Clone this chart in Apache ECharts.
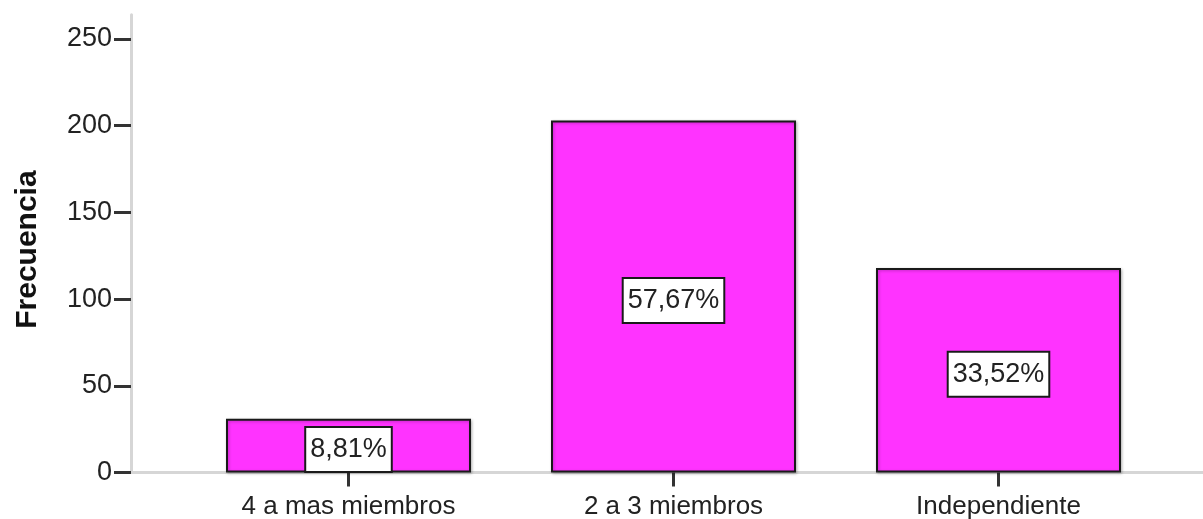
<!DOCTYPE html>
<html>
<head>
<meta charset="utf-8">
<script src="https://cdn.jsdelivr.net/npm/echarts@6/dist/echarts.min.js"></script>
<style>
  html, body { margin: 0; padding: 0; background: #fff; }
  #chart { width: 1203px; height: 519px; }
</style>
</head>
<body>
<div id="chart"></div>
<script>
// Frequency of household size groups
const categories = ['4 a mas miembros', '2 a 3 miembros', 'Independiente'];
const frequencies = [31, 203, 118];
const yTicks = [0, 50, 100, 150, 200, 250];

const FONT = '"Liberation Sans", Arial, sans-serif';
const total = frequencies.reduce((a, b) => a + b, 0);
const pctLabel = v => (v / total * 100).toFixed(2).replace('.', ',') + '%';

const yMin = 0, yMax = 264;
const plotTop = 14.7, plotBottom = 46.5;

const chart = echarts.init(document.getElementById('chart'), null, { renderer: 'canvas' });
chart.setOption({
  animation: false,
  backgroundColor: '#ffffff',
  grid: [
    // bars
    { left: 186, right: 42, top: plotTop, bottom: plotBottom, outerBoundsMode: 'none', containLabel: false },
    // axis frame
    { left: 131, right: 0, top: plotTop, bottom: plotBottom, outerBoundsMode: 'none', containLabel: false }
  ],
  xAxis: [
    {
      gridIndex: 0,
      type: 'category',
      data: categories,
      axisLine: { show: false },
      axisTick: { show: true, alignWithLabel: true, length: 14, lineStyle: { color: '#333', width: 3 } },
      axisLabel: { fontFamily: FONT, fontSize: 26, color: '#222', margin: 21 },
      splitLine: { show: false }
    },
    {
      gridIndex: 1,
      type: 'value',
      min: 0, max: 1,
      axisLine: { show: true, lineStyle: { color: '#d6d6d6', width: 3 } },
      axisTick: { show: false },
      axisLabel: { show: false },
      splitLine: { show: false }
    }
  ],
  yAxis: [
    {
      gridIndex: 0,
      type: 'value',
      min: yMin, max: yMax,
      show: false
    },
    {
      gridIndex: 1,
      type: 'value',
      min: yMin, max: yMax,
      name: 'Frecuencia',
      nameLocation: 'middle',
      nameGap: 88,
      nameTextStyle: { fontFamily: FONT, fontSize: 30, fontWeight: 'bold', color: '#111', padding: [0, 12, 0, 0] },
      axisLine: { show: true, lineStyle: { color: '#d6d6d6', width: 3 } },
      axisTick: { show: true, length: 17, customValues: yTicks, lineStyle: { color: '#333', width: 3 } },
      axisLabel: { customValues: yTicks, fontFamily: FONT, fontSize: 27, color: '#222', margin: 19 },
      splitLine: { show: false }
    }
  ],
  series: [
    {
      type: 'bar',
      xAxisIndex: 0,
      yAxisIndex: 0,
      data: frequencies,
      barWidth: 245,
      itemStyle: {
        color: '#ff33ff',
        borderColor: '#1a1a1a',
        borderWidth: 2,
        shadowColor: 'rgba(0,0,0,0.25)',
        shadowBlur: 3,
        shadowOffsetX: 1,
        shadowOffsetY: 1
      },
      label: {
        show: true,
        position: 'inside',
        offset: [0, 4],
        formatter: p => pctLabel(p.value),
        fontFamily: FONT,
        fontSize: 27,
        color: '#222',
        backgroundColor: '#ffffff',
        borderColor: '#1a1a1a',
        borderWidth: 2,
        padding: [7, 4, 6, 4],
        lineHeight: 30
      }
    }
  ]
});
</script>
</body>
</html>
